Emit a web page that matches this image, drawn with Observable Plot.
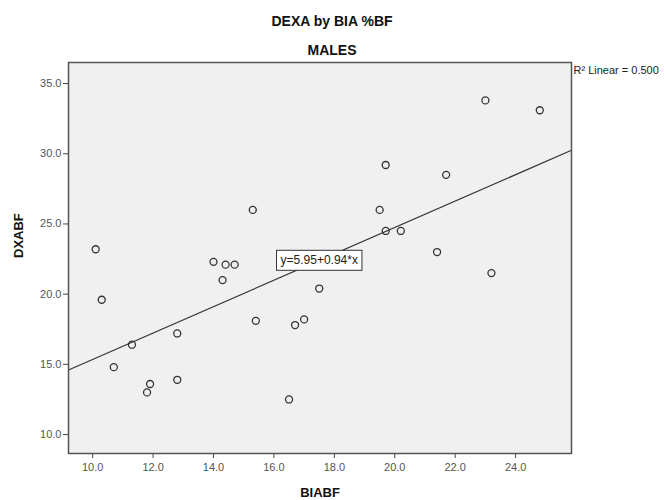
<!DOCTYPE html>
<html>
<head>
<meta charset="utf-8">
<script src="https://cdn.jsdelivr.net/npm/d3@7"></script>
<script src="https://cdn.jsdelivr.net/npm/@observablehq/plot@0.6"></script>
<style>
  html, body { margin: 0; padding: 0; background: #fff; }
  #wrap { width: 664px; height: 500px; position: relative; overflow: hidden; font-family: "Liberation Sans", Arial, sans-serif; }
  #header { height: 58px; position: relative; }
  .t { position: absolute; left: 0; width: 664px; text-align: center; font-weight: bold; font-size: 14px; line-height: 16px; color: #111; }
  #t1 { top: 13px; }
  #t2 { top: 42px; }
  svg { display: block; }
</style>
</head>
<body>
<div id="wrap">
  <div id="header">
    <div class="t" id="t1">DEXA by BIA %BF</div>
    <div class="t" id="t2">MALES</div>
  </div>
  <div id="chart"></div>
</div>
<script>
// Data
const biabf = [10.1, 10.3, 10.7, 11.3, 11.8, 11.9, 12.8, 12.8, 14.0, 14.3, 14.4, 14.7, 15.3, 15.4, 16.5, 16.7, 17.0, 17.5, 19.5, 19.7, 19.7, 20.2, 21.4, 21.7, 23.0, 23.2, 24.8];
const dxabf = [23.2, 19.6, 14.8, 16.4, 13.0, 13.6, 17.2, 13.9, 22.3, 21.0, 22.1, 22.1, 26.0, 18.1, 12.5, 17.8, 18.2, 20.4, 26.0, 29.2, 24.5, 24.5, 23.0, 28.5, 33.8, 21.5, 33.1];
const xTicks = [10, 12, 14, 16, 18, 20, 22, 24];
const yTicks = [10, 15, 20, 25, 30, 35];
const fitIntercept = 5.95;
const fitSlope = 0.94;
const fitLabel = "y=5.95+0.94*x";
const fitLabelX = 17.5;
const r2Label = "R\u00B2 Linear = 0.500";
const xTitle = "BIABF";
const yTitle = "DXABF";

const xDomain = [9.2, 25.85];
const yDomain = [8.65, 36.5];

const points = biabf.map((x, i) => ({x, y: dxabf[i]}));
const fitLine = xDomain.map(x => ({x, y: fitIntercept + fitSlope * x}));
const fitText = [{x: fitLabelX, y: fitIntercept + fitSlope * fitLabelX, label: fitLabel}];

const chart = Plot.plot({
  width: 664,
  height: 442,
  marginTop: 4,
  marginBottom: 47,
  marginLeft: 68,
  marginRight: 93,
  style: {fontFamily: "'Liberation Sans', Arial, sans-serif", fontSize: "11px", background: "#fff", color: "#444"},
  x: {domain: xDomain, ticks: xTicks, tickFormat: d3.format(".1f")},
  y: {domain: yDomain, ticks: yTicks, tickFormat: d3.format(".1f")},
  marks: [
    Plot.frame({fill: "#f0f0f0", stroke: "none"}),
    Plot.axisX({ticks: xTicks, tickFormat: d3.format(".1f"), tickSize: 5, tickPadding: 5, label: null, stroke: "#444", fill: "#555"}),
    Plot.axisY({ticks: yTicks, tickFormat: d3.format(".1f"), tickSize: 5, tickPadding: 2, label: null, stroke: "#444", fill: "#555"}),
    Plot.line(fitLine, {x: "x", y: "y", stroke: "#333", strokeWidth: 1.2}),
    Plot.dot(points, {x: "x", y: "y", r: 3.5, stroke: "#333", strokeWidth: 1.3, fill: "none"}),
    Plot.text(fitText, {x: "x", y: "y", text: "label", fontSize: 12, fill: "#222"}),
    Plot.frame({stroke: "#555", strokeWidth: 1.5}),
    Plot.text([r2Label], {text: d => d, frameAnchor: "top-right", textAnchor: "start", lineAnchor: "top", dx: 2, dy: 4, fontSize: 11, fill: "#222"}),
    Plot.text([xTitle], {text: d => d, frameAnchor: "bottom", lineAnchor: "top", dy: 34, fontSize: 13, fontWeight: "bold", fill: "#111"}),
    Plot.text([yTitle], {text: d => d, frameAnchor: "left", rotate: -90, dx: -50, fontSize: 13, fontWeight: "bold", fill: "#111"})
  ]
});

document.getElementById("chart").appendChild(chart);

// Draw the boxed background behind the regression equation label
const eq = Array.from(chart.querySelectorAll("text")).find(t => t.textContent === fitLabel);
if (eq) {
  const bb = eq.getBBox();
  const padX = 4, padY = 3;
  const ns = "http://www.w3.org/2000/svg";
  const rect = document.createElementNS(ns, "rect");
  rect.setAttribute("x", bb.x - padX);
  rect.setAttribute("y", bb.y - padY);
  rect.setAttribute("width", bb.width + 2 * padX);
  rect.setAttribute("height", bb.height + 2 * padY);
  rect.setAttribute("fill", "#fff");
  rect.setAttribute("stroke", "#333");
  rect.setAttribute("stroke-width", "1");
  const tr = eq.getAttribute("transform");
  if (tr) rect.setAttribute("transform", tr);
  eq.parentNode.insertBefore(rect, eq);
}
</script>
</body>
</html>
